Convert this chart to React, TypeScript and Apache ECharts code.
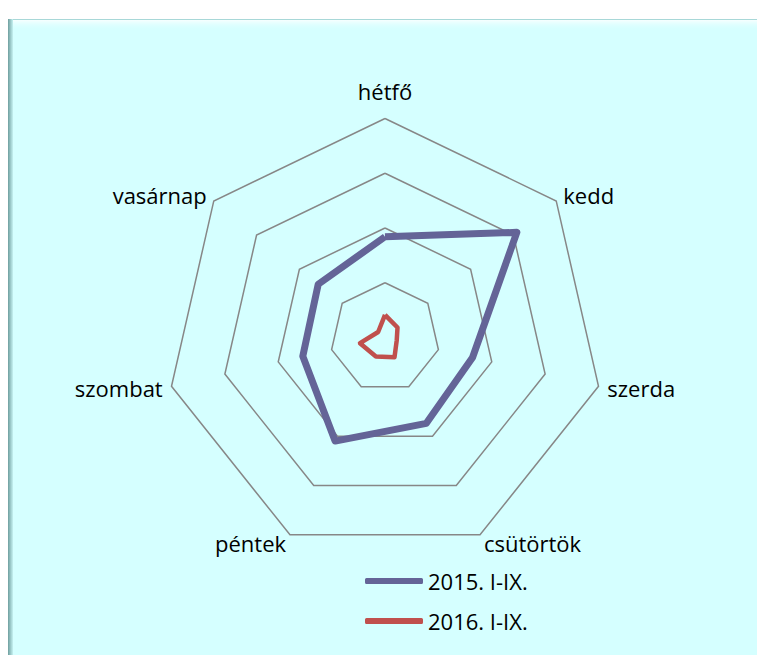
import React, { useEffect, useRef } from "react";
import * as echarts from "echarts";

const days = ["hétfő", "kedd", "szerda", "csütörtök", "péntek", "szombat", "vasárnap"];
const series2015 = [46, 77, 41, 43.5, 52.5, 38.5, 39];
const series2016 = [10.3, 7.3, 5.5, 10, 9.6, 11.7, 4];
const seriesNames = ["2015. I-IX.", "2016. I-IX."];
const maxValue = 100;

// ECharts draws radar axes counter-clockwise; reorder so days run clockwise
const order = [0, 6, 5, 4, 3, 2, 1];
const reorder = <T,>(arr: T[]) => order.map((i) => arr[i]);

export default function App() {
  const ref = useRef<HTMLDivElement>(null);
  useEffect(() => {
    if (!ref.current) return;
    const chart = echarts.init(ref.current, undefined, { renderer: "svg" });
    const W = 757;
    const H = 647;
    chart.setOption({
      animation: false,
      backgroundColor: "transparent",
      graphic: [
        {
          type: "rect",
          shape: { x: 0, y: 11, width: W, height: H - 11 },
          style: { fill: "#D5FFFF" },
          z: -10,
        },
        {
          type: "rect",
          shape: { x: 0, y: 11, width: W, height: 12 },
          style: {
            fill: new echarts.graphic.LinearGradient(0, 0, 0, 1, [
              { offset: 0, color: "rgba(255,255,255,0.95)" },
              { offset: 1, color: "rgba(213,255,255,0)" },
            ]),
          },
          z: -9,
        },
        {
          type: "line",
          shape: { x1: 0, y1: 11.5, x2: W, y2: 11.5 },
          style: { stroke: "#A8D8D8", lineWidth: 1 },
          z: -8,
        },
        {
          type: "rect",
          shape: { x: 0, y: 11, width: 5, height: H - 11 },
          style: {
            fill: new echarts.graphic.LinearGradient(0, 0, 1, 0, [
              { offset: 0, color: "#6E9E9E" },
              { offset: 1, color: "#C6F2F2" },
            ]),
          },
          z: -8,
        },
      ],
      legend: {
        orient: "vertical",
        left: 352,
        top: 557,
        itemGap: 18,
        itemWidth: 58,
        itemHeight: 6,
        icon: "roundRect",
        data: seriesNames,
        textStyle: { fontFamily: "Open Sans", fontSize: 22, color: "#000" },
      },
      radar: {
        center: [377, 329.5],
        radius: 219,
        startAngle: 90,
        shape: "polygon",
        splitNumber: 4,
        indicator: reorder(days).map((d) => ({ name: d, max: maxValue, min: 0 })),
        axisName: {
          color: "#000",
          fontFamily: "Open Sans",
          fontSize: 22,
          formatter: (name: string) => (name === days[0] ? "{t|" + name + "}" : name),
          rich: { t: { fontFamily: "Open Sans", fontSize: 22, color: "#000", padding: [0, 0, 8, 0] } },
        },
        nameGap: 9,
        axisLine: { show: false },
        axisTick: { show: false },
        axisLabel: { show: false },
        splitArea: { show: false },
        splitLine: { lineStyle: { color: "#878787", width: 1.5 } },
      },
      series: [
        {
          type: "radar",
          symbol: "none",
          data: [
            {
              name: seriesNames[0],
              value: reorder(series2015),
              lineStyle: { color: "#646497", width: 7, join: "round" },
              itemStyle: { color: "#646497" },
            },
            {
              name: seriesNames[1],
              value: reorder(series2016),
              lineStyle: { color: "#C0504D", width: 4.5, join: "round" },
              itemStyle: { color: "#C0504D" },
            },
          ],
        },
      ],
    });
    return () => chart.dispose();
  }, []);
  return <div ref={ref} style={{ width: 757, height: 647 }} />;
}
